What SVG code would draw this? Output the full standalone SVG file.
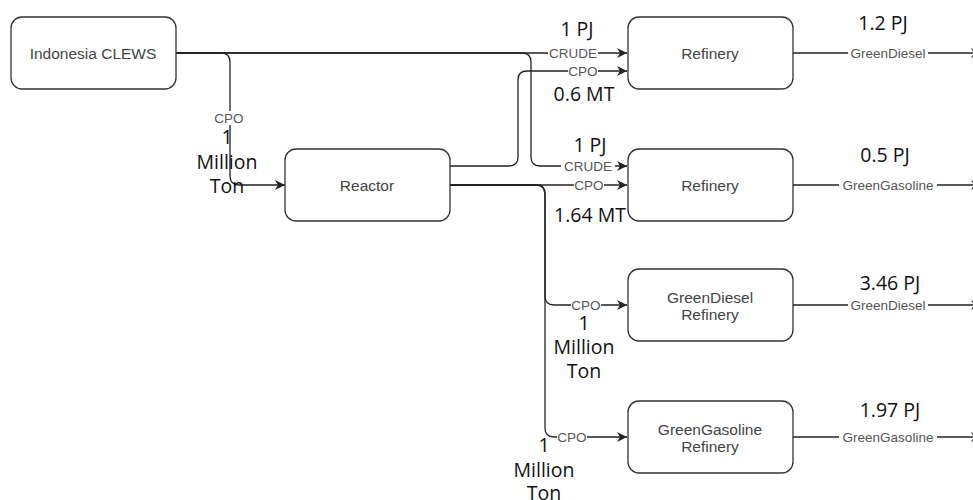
<svg xmlns="http://www.w3.org/2000/svg" width="973" height="500" viewBox="0 0 973 500">
<defs>
<style>
.node{fill:#fff;stroke:#333;stroke-width:1.3}
.nt{font-family:"Liberation Sans",Arial,sans-serif;font-size:15.5px;fill:#444;text-anchor:middle;dominant-baseline:central}
.edge{fill:none;stroke:#222;stroke-width:1.3}
.el{font-family:"Liberation Sans",Arial,sans-serif;font-size:13.5px;fill:#555;text-anchor:middle;dominant-baseline:central}
.bg{fill:#fff}
.big{font-family:"Open Sans","Noto Sans",sans-serif;font-size:19.5px;fill:#111;text-anchor:middle}
</style>
<marker id="arr" markerUnits="userSpaceOnUse" markerWidth="11" markerHeight="10" refX="10" refY="5" orient="auto">
<path d="M0,0 L10,5 L0,10 L3,5 z" fill="#222"/>
</marker>
</defs>
<rect width="973" height="500" fill="#fff"/>

<g id="connectors">
<path class="edge" d="M176,53 H627" marker-end="url(#arr)"/>
<path class="edge" d="M176,53 H221 Q230,53 230,62 V176 Q230,185 239,185 H285" marker-end="url(#arr)"/>
<path class="edge" d="M176,53 H522 Q531,53 531,62 V157 Q531,166 540,166 H627" marker-end="url(#arr)"/>
<path class="edge" d="M450,166 H509 Q518,166 518,157 V80 Q518,71 527,71 H627" marker-end="url(#arr)"/>
<path class="edge" d="M450,185 H627" marker-end="url(#arr)"/>
<path class="edge" d="M450,185 H536 Q545,185 545,194 V296 Q545,305 554,305 H627" marker-end="url(#arr)"/>
<path class="edge" d="M450,185 H536 Q545,185 545,194 V428 Q545,437 554,437 H627" marker-end="url(#arr)"/>
<path class="edge" d="M793,53 H981" marker-end="url(#arr)"/>
<path class="edge" d="M793,185 H981" marker-end="url(#arr)"/>
<path class="edge" d="M793,305 H981" marker-end="url(#arr)"/>
<path class="edge" d="M793,437 H981" marker-end="url(#arr)"/>

<rect class="bg" x="548" y="46" width="50" height="14"/>
<text class="el" x="573" y="53">CRUDE</text>
<rect class="bg" x="568" y="64" width="30" height="14"/>
<text class="el" x="583" y="71">CPO</text>
<rect class="bg" x="561" y="159" width="54" height="14"/>
<text class="el" x="588" y="166">CRUDE</text>
<rect class="bg" x="574" y="178" width="30" height="14"/>
<text class="el" x="589" y="185">CPO</text>
<rect class="bg" x="571" y="298" width="30" height="14"/>
<text class="el" x="586" y="305">CPO</text>
<rect class="bg" x="557" y="430" width="30" height="14"/>
<text class="el" x="572" y="437">CPO</text>
<rect class="bg" x="214" y="111" width="30" height="14"/>
<text class="el" x="229" y="118">CPO</text>

<rect class="bg" x="848" y="46" width="80" height="14"/>
<text class="el" x="888" y="53">GreenDiesel</text>
<rect class="bg" x="839" y="178" width="98" height="14"/>
<text class="el" x="888" y="185">GreenGasoline</text>
<rect class="bg" x="848" y="298" width="80" height="14"/>
<text class="el" x="888" y="305">GreenDiesel</text>
<rect class="bg" x="839" y="430" width="98" height="14"/>
<text class="el" x="888" y="437">GreenGasoline</text>

<text class="big" x="227" y="144">1</text>
<text class="big" x="227" y="169">Million</text>
<text class="big" x="227" y="193">Ton</text>

<text class="big" x="577" y="36">1 PJ</text>
<text class="big" x="584" y="101">0.6 MT</text>
<text class="big" x="590" y="152">1 PJ</text>
<text class="big" x="590" y="222">1.64 MT</text>

<text class="big" x="584" y="330">1</text>
<text class="big" x="584" y="354">Million</text>
<text class="big" x="584" y="378">Ton</text>

<text class="big" x="544" y="452">1</text>
<text class="big" x="544" y="477">Million</text>
<text class="big" x="544" y="500">Ton</text>

<text class="big" x="883" y="30">1.2 PJ</text>
<text class="big" x="885" y="162">0.5 PJ</text>
<text class="big" x="890" y="290">3.46 PJ</text>
<text class="big" x="890" y="417">1.97 PJ</text>
</g>

<g id="indonesia-clews">
<rect class="node" x="11" y="17" width="165" height="72" rx="11"/>
<text class="nt" x="93" y="53">Indonesia CLEWS</text>
</g>
<g id="reactor">
<rect class="node" x="285" y="149" width="165" height="72" rx="11"/>
<text class="nt" x="367" y="185">Reactor</text>
</g>
<g id="refinery-1">
<rect class="node" x="628" y="17" width="165" height="72" rx="11"/>
<text class="nt" x="710" y="53">Refinery</text>
</g>
<g id="refinery-2">
<rect class="node" x="628" y="149" width="165" height="72" rx="11"/>
<text class="nt" x="710" y="185">Refinery</text>
</g>
<g id="greendiesel-refinery">
<rect class="node" x="628" y="269" width="165" height="72" rx="11"/>
<text class="nt" x="710" y="297">GreenDiesel</text>
<text class="nt" x="710" y="314">Refinery</text>
</g>
<g id="greengasoline-refinery">
<rect class="node" x="628" y="401" width="165" height="72" rx="11"/>
<text class="nt" x="710" y="429">GreenGasoline</text>
<text class="nt" x="710" y="446">Refinery</text>
</g>
</svg>
